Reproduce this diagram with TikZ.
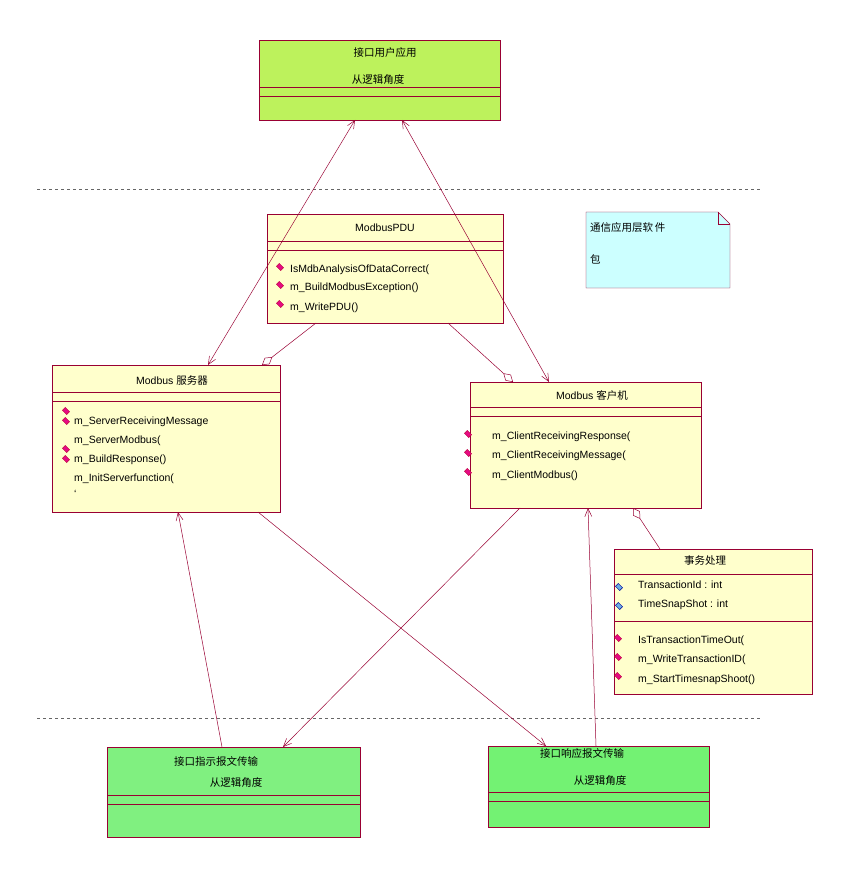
\documentclass[tikz,border=0pt]{standalone}
\usepackage{fontspec}
\setmainfont{Liberation Sans}
\newfontfamily\cjk{Noto Sans CJK SC}
\usetikzlibrary{arrows.meta,calc}
\definecolor{ln}{HTML}{990033}
\definecolor{yel}{HTML}{FFFFCC}
\definecolor{lime}{HTML}{BDF25C}
\definecolor{grn}{HTML}{80F080}
\definecolor{cy}{HTML}{CCFFFF}
\tikzset{
 box/.style={draw=ln, anchor=north west, inner sep=0pt},
 sep/.style={draw=ln},
 conn/.style={draw=ln, line width=0.5pt},
 tx/.style={anchor=west, inner sep=0pt, font=\fontsize{10.5}{12}\selectfont},
 ttl/.style={inner sep=0pt, font=\fontsize{10.5}{12}\selectfont},
 op/.style={fill=magenta!85!purple, draw=purple, rotate=45, minimum width=4pt, minimum height=6pt, inner sep=0pt},
 attr/.style={fill=cyan!70!blue!60, draw=blue!60!black, rotate=45, minimum width=4pt, minimum height=6pt, inner sep=0pt},
 arr/.style={-{Straight Barb[length=8pt,width=7pt]}},
 dia/.style={-{Diamond[open,length=13pt,width=8pt]}},
}
\begin{document}
\begin{tikzpicture}[x=1pt,y=-1pt]
\path[use as bounding box,fill=white] (0,0) rectangle (850,877);
\draw[dashed, gray!80!black] (37,189) -- (760,189);
\draw[dashed, gray!80!black] (37,718) -- (760,718);

% top
\node[box, fill=lime, minimum width=241, minimum height=80] (top) at (259,40) {};
\draw[sep] (259,87) -- (500,87); \draw[sep] (259,96) -- (500,96);
\node[ttl] (t1) at (385,53) {\cjk 接口用户应用};
\node[ttl] (t2) at (378,80) {\cjk 从逻辑角度};

% PDU
\node[box, fill=yel, minimum width=236, minimum height=109] (pdu) at (267,214) {};
\draw[sep] (267,241) -- (503,241); \draw[sep] (267,250) -- (503,250);
\node[ttl] (p0) at (385,228) {ModbusPDU};
\node[op] (pa) at (280,267) {}; \node[tx] (p1) at (290,270) {IsMdbAnalysisOfDataCorrect(};
\node[op] (pb) at (280,285) {}; \node[tx] (p2) at (290,288) {m\_BuildModbusException()};
\node[op] (pc) at (280,304) {}; \node[tx] (p3) at (290,308) {m\_WritePDU()};

% note
\draw[ln, fill=cy] (586,212) -- (718,212) -- (730,224) -- (730,288) -- (586,288) -- cycle;
\draw[ln] (718,212) -- (718,224) -- (730,224);
\node[tx] (n1) at (590,228) {\cjk 通信应用层软\,件};
\node[tx] (n2) at (590,259) {\cjk 包};

% server
\node[box, fill=yel, minimum width=228, minimum height=147] (srv) at (52,365) {};
\draw[sep] (52,392) -- (280,392); \draw[sep] (52,401) -- (280,401);
\node[ttl] (s0) at (172,381) {Modbus {\cjk 服务器}};
\node[op] (sa) at (66,411) {}; \node[op] (sb) at (66,421) {};
\node[op] (sc) at (66,449) {}; \node[op] (sd) at (66,459) {};
\node[tx] (s1) at (74,422) {m\_ServerReceivingMessage};
\node[tx] (s2) at (74,441) {m\_ServerModbus(};
\node[tx] (s3) at (74,460) {m\_BuildResponse()};
\node[tx] (s4) at (74,479) {m\_InitServerfunction(};
\node[tx] (s5) at (74,494) {`};

% client
\node[box, fill=yel, minimum width=231, minimum height=126] (cli) at (470,382) {};
\draw[sep] (470,407) -- (701,407); \draw[sep] (470,416) -- (701,416);
\node[ttl] (c0) at (592,395) {Modbus {\cjk 客户机}};
\node[op] (ca) at (468,434) {}; \node[tx] (c1) at (492,437) {m\_ClientReceivingResponse(};
\node[op] (cb) at (468,453) {}; \node[tx] (c2) at (492,456) {m\_ClientReceivingMessage(};
\node[op] (cc) at (468,472) {}; \node[tx] (c3) at (492,476) {m\_ClientModbus()};

% transaction
\node[box, fill=yel, minimum width=198, minimum height=145] (trx) at (614,549) {};
\draw[sep] (614,574) -- (812,574); \draw[sep] (614,621) -- (812,621);
\node[ttl] (x0) at (705,561) {\cjk 事务处理};
\node[attr] (xa) at (619,587) {}; \node[tx] (x1) at (638,585) {TransactionId : int};
\node[attr] (xb) at (619,606) {}; \node[tx] (x2) at (638,605) {TimeSnapShot : int};
\node[op] (xc) at (618,638) {}; \node[tx] (x3) at (638,641) {IsTransactionTimeOut(};
\node[op] (xd) at (618,657) {}; \node[tx] (x4) at (638,660) {m\_WriteTransactionID(};
\node[op] (xe) at (618,676) {}; \node[tx] (x5) at (638,680) {m\_StartTimesnapShoot()};

% bottom left
\node[box, fill=grn, minimum width=253, minimum height=90] (bl) at (107,747) {};
\draw[sep] (107,795) -- (360,795); \draw[sep] (107,804) -- (360,804);
\node[ttl] (b1) at (216,761) {\cjk 接口指示报文传输};
\node[ttl] (b2) at (236,783) {\cjk 从逻辑角度};

% bottom right
\node[box, fill=grn!90!green, minimum width=221, minimum height=81] (br) at (488,746) {};
\draw[sep] (488,792) -- (709,792); \draw[sep] (488,801) -- (709,801);
\node[ttl] (r1) at (582,753) {\cjk 接口响应报文传输};
\node[ttl] (r2) at (600,781) {\cjk 从逻辑角度};

% connectors
\coordinate (tA) at (355,120); \coordinate (sA) at (208,365);
\draw[conn, {Straight Barb[length=8pt,width=7pt]}-{Straight Barb[length=8pt,width=7pt]}] (tA) -- (sA);
\coordinate (tB) at (402,120); \coordinate (cA) at (549,382);
\draw[conn, {Straight Barb[length=8pt,width=7pt]}-{Straight Barb[length=8pt,width=7pt]}] (tB) -- (cA);
\coordinate (pA) at (316,323); \coordinate (sB) at (262,365);
\draw[conn, dia] (pA) -- (sB);
\coordinate (pB) at (448,323); \coordinate (cB) at (513,382);
\draw[conn, dia] (pB) -- (cB);
\coordinate (xT) at (660,549); \coordinate (cC) at (633,508);
\draw[conn, dia] (xT) -- (cC);
\coordinate (cD) at (520,508); \coordinate (blA) at (283,747);
\draw[conn, arr] (cD) -- (blA);
\coordinate (sC) at (258,512); \coordinate (brA) at (546,746);
\draw[conn, arr] (sC) -- (brA);
\coordinate (blB) at (222,747); \coordinate (sD) at (178,512);
\draw[conn, arr] (blB) -- (sD);
\coordinate (brB) at (596,746); \coordinate (cE) at (588,508);
\draw[conn, arr] (brB) -- (cE);
\end{tikzpicture}
\end{document}
